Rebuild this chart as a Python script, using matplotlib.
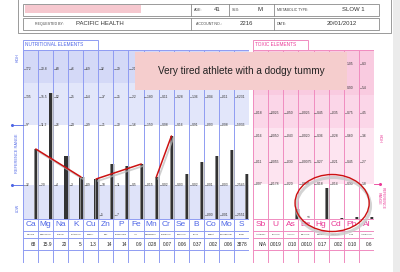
import matplotlib
matplotlib.use('Agg')
import matplotlib.pyplot as plt
from matplotlib.patches import Rectangle, Ellipse
import numpy as np

plt.rcParams['font.family'] = ['Liberation Sans', 'DejaVu Sans']

# ---------------- data ----------------
nutr_symbols = ["Ca", "Mg", "Na", "K", "Cu", "Zn", "P", "Fe", "Mn", "Cr", "Se", "B", "Co", "Mo", "S"]
nutr_names = ["Calcium", "Magnesium", "Sodium", "Potassium", "Copper", "Zinc", "Phosphorus", "Iron",
              "Manganese", "Chromium", "Selenium", "Boron", "Cobalt", "Molybdenum", "Sulfur"]
nutr_values = ["68", "15.9", "20", "5", "1.3", "14", "14", "0.9", ".028", "0.07", "0.06", "0.37",
               ".002", ".006", "3878"]
# bar heights on the chart's level scale (0 = bottom of chart, 34 = low ref, 94 = high ref)
nutr_levels = [70, 126, 63, 42, 40, 55, 53, 55, 42, 83, 45, 57, 63, 69, 45]
nutr_lines = [("Ca", "K"), ("Cu", "Fe"), ("Mn", "Cr")]

nutr_row_levels = [150, 122, 94, 34, 4]
nutr_row_labels = [
    ["172", "20.8", "68", "46", "6.9", "32", "29", "2.1", "", "", "", "", "", "", ""],
    ["135", "15.5", "52", "35", "5.4", "27", "25", "2.2", ".180", "0.11", "0.28", "1.36", ".004", ".011", ".6231"],
    ["97", "11.2", "36", "24", "3.9", "21", "20", "1.6", ".150", "0.08", "0.16", "0.91", ".003", ".008", ".5036"],
    ["22", "2.0", "4", "3", "0.9", "10", "11", "0.5", ".015", "0.02", "0.03", "0.02", ".001", ".003", ".2545"],
    ["", "", "", "", "", "5", "7", "", "", "", "", "", ".000", ".001", ".2551"],
]

tox_symbols = ["Sb", "U", "As", "Be", "Hg", "Cd", "Pb", "Al"]
tox_names = ["Antimony", "Uranium", "Arsenic", "Beryllium", "Mercury", "Cadmium", "Lead", "Aluminium"]
tox_values = ["N/A", ".0019", ".010", ".0010", "0.17", ".002", "0.10", "0.6"]
tox_levels = [0, 0, 10, 0, 31, 1, 2, 2]
tox_row_levels = [155, 131, 106, 83, 57, 35]
tox_row_labels = [
    ["", "", "", "", "", "", "1.05", "8.3"],
    ["", "", "", "", "", "", "0.90", "5.4"],
    [".018", ".0025", ".050", ".0025", "0.45", ".035", "0.75", "4.5"],
    [".016", ".0050", ".043", ".0020", "0.36", ".028", "0.60", "3.6"],
    [".011", ".0055", ".030", ".00075", "0.27", ".021", "0.45", "2.7"],
    [".007", ".0178", ".020", ".0005", "0.18", ".014", "0.30", "1.8"],
]

header_rows = [
    [("AGE:", "41"), ("SEX:", "M"), ("METABOLIC TYPE:", "SLOW 1")],
    [("REQUESTED BY:", "PACIFIC HEALTH"), ("ACCOUNT NO.:", "2216"), ("DATE:", "20/01/2012")],
]
note_text = "Very tired athlete with a dodgy tummy"

# ---------------- style ----------------
W, H = 400, 272
BLUE_LINE = '#8f9cf2'
BLUE_TXT = '#4f66e6'
PINK_LINE = '#f08cc0'
PINK_TXT = '#ea3a97'
RED = '#cc1111'

fig = plt.figure(figsize=(4, 2.72), dpi=100)
fig.patch.set_facecolor('white')


def frac(x0, y0, x1, y1):
    return [x0 / W, 1 - y1 / H, (x1 - x0) / W, (y1 - y0) / H]


def panel(ax, n, bands, line_col, sym_col, symbols, names, values, levels, row_levels, row_labels):
    ax.set_xlim(0, n)
    ax.set_ylim(-44, 169)
    ax.axis('off')
    for lo, hi, c in bands:
        ax.axhspan(lo, hi, color=c, lw=0, zorder=0)
    # grid
    ax.vlines(np.arange(n + 1), -44, 169, color=line_col, lw=0.7, zorder=1)
    ax.hlines([169, 0, -12, -19, -31, -44], 0, n, color=line_col, lw=0.7, zorder=1)
    # level labels
    for lev, labs in zip(row_levels, row_labels):
        for i, t in enumerate(labs):
            if t:
                ax.plot([i + 0.06, i + 0.16], [lev, lev], color='#444', lw=0.4, zorder=2)
                ax.text(i + 0.2, lev, t, fontsize=2.4, color='#333', va='center', ha='left', zorder=2)
    # bars
    x = np.arange(n) + 0.85
    lv = np.array(levels, float)
    ax.bar(x + 0.12, lv, width=0.24, color='#b8b8b8', alpha=0.7, zorder=3, lw=0)
    ax.bar(x, lv, width=0.21, color='#333333', zorder=4, lw=0)
    ax.bar(x - 0.06, lv, width=0.06, color='#8a8a8a', zorder=5, lw=0)
    # table text
    for i in range(n):
        ax.text(i + 0.5, -6, symbols[i], fontsize=6, color=sym_col, ha='center', va='center', zorder=6)
        ax.text(i + 0.5, -15.5, names[i], fontsize=1.6, color='#333', ha='center', va='center', zorder=6)
        ax.text(i + 0.9, -25, values[i], fontsize=3.4, color='#222', ha='right', va='center', zorder=6)
    return x, lv


# ---- nutritional panel ----
axn = fig.add_axes(frac(23, 50, 249, 263))
nb = [(136, 169, '#d4d9f7'), (94, 136, '#e2e6fa'), (0, 34, '#dfe3f9')]
xn, ln = panel(axn, 15, nb, BLUE_LINE, BLUE_TXT, nutr_symbols, nutr_names, nutr_values,
               nutr_levels, nutr_row_levels, nutr_row_labels)
for a, b in nutr_lines:
    ia, ib = nutr_symbols.index(a), nutr_symbols.index(b)
    axn.plot([xn[ia] + 0.12, xn[ib] + 0.12], [ln[ia] - 2, ln[ib] - 2], color='#bbbbbb', lw=1.3, zorder=6,
             solid_capstyle='round', alpha=0.7)
    axn.plot([xn[ia], xn[ib]], [ln[ia], ln[ib]], color=RED, lw=1.1, zorder=7, solid_capstyle='round')
for lev in (94, 34):
    axn.plot([-0.72, 0], [lev, lev], color=BLUE_TXT, lw=0.6, clip_on=False)
    axn.plot([-0.72], [lev], marker='o', ms=1.2, color=BLUE_TXT, clip_on=False)

# ---- toxic panel ----
axt = fig.add_axes(frac(253, 50, 374, 263))
tb = [(124, 169, '#f9cbe0'), (91, 124, '#fbd6e8'), (35, 91, '#fde4f0')]
xt, lt = panel(axt, 8, tb, PINK_LINE, PINK_TXT, tox_symbols, tox_names, tox_values,
               tox_levels, tox_row_levels, tox_row_labels)
axt.text(3.7, 2.5, "<<", fontsize=2.6, color='#333', ha='center', va='center', zorder=6)
axt.plot([8, 8.4], [35, 35], color=PINK_TXT, lw=0.6, clip_on=False)
axt.plot([8.4], [35], marker='o', ms=1.2, color=PINK_TXT, clip_on=False)
axt.add_patch(Ellipse((5.32, 13), 4.9, 57, fill=False, ec='#c8c8c8', lw=2.2, zorder=7, clip_on=False, alpha=0.8))
axt.add_patch(Ellipse((5.23, 16), 4.9, 57, fill=False, ec=RED, lw=1.0, zorder=8, clip_on=False))

# ---- overlay: header, frame, tabs, side labels, note ----
ov = fig.add_axes([0, 0, 1, 1])
ov.set_xlim(0, W)
ov.set_ylim(H, 0)
ov.axis('off')
ov.patch.set_alpha(0)
ov.add_patch(Rectangle((393, 0), 7, H, color='#ebebeb', lw=0))
ov.plot([18, 18, 391, 391], [0, 33, 33, 0], color='#9a9a9a', lw=0.7)
for y0, y1 in [(3.5, 16), (17.5, 30)]:
    ov.add_patch(Rectangle((23, y0), 356, y1 - y0, fill=False, ec='#8a8a8a', lw=0.6))
    for xd in (191, 229 if y0 < 10 else None, 274):
        if xd:
            ov.plot([xd, xd], [y0, y1], color='#8a8a8a', lw=0.6)
ov.add_patch(Rectangle((25, 4.5), 116, 8.5, color='#f6c8cf', lw=0))
hx1 = [(194, 214), (232, 258), (277, 353)]
hx2 = [(35, 76), (196, 240), (277, 327)]
for (lab, val), (xl, xv) in zip(header_rows[0], hx1):
    ov.text(xl, 9.8, lab, fontsize=2.6, color='#444', va='center')
    ov.text(xv, 9.5, val, fontsize=4.3, color='#333', va='center', ha='center' if xv > 340 else 'left')
for (lab, val), (xl, xv) in zip(header_rows[1], hx2):
    ov.text(xl, 23.8, lab, fontsize=2.6, color='#444', va='center')
    ov.text(xv, 23.8, val, fontsize=4.3, color='#333', va='center')

# tabs
ov.add_patch(Rectangle((23, 39.5), 75, 10.5, fc='white', ec=BLUE_LINE, lw=0.7))
ov.text(25, 45, "NUTRITIONAL ELEMENTS", fontsize=3.4, color=BLUE_TXT, va='center')
ov.add_patch(Rectangle((253, 39.5), 55, 10.5, fc='white', ec=PINK_LINE, lw=0.7))
ov.text(255, 45, "TOXIC ELEMENTS", fontsize=3.4, color=PINK_TXT, va='center')

# side labels
ov.text(17.5, 58, "HIGH", fontsize=2.6, color=BLUE_TXT, rotation=90, ha='center', va='center')
ov.text(17.5, 153, "REFERENCE RANGE", fontsize=2.8, color=BLUE_TXT, rotation=90, ha='center', va='center')
ov.text(17.5, 208, "LOW", fontsize=2.6, color=BLUE_TXT, rotation=90, ha='center', va='center')
ov.text(379.5, 138, "HIGH", fontsize=2.6, color=PINK_TXT, rotation=-90, ha='center', va='center')
ov.text(381, 198, "REFERENCE\nRANGE", fontsize=2.6, color=PINK_TXT, rotation=-90, ha='center', va='center',
        linespacing=1.0)

# note box
ov.add_patch(Rectangle((135, 52), 212, 38, color='#f5cdcd', lw=0, zorder=20))
ov.text(241, 71, note_text, fontsize=7.2, color='#222', ha='center', va='center', zorder=21)

fig.savefig('out.png', dpi=100)
